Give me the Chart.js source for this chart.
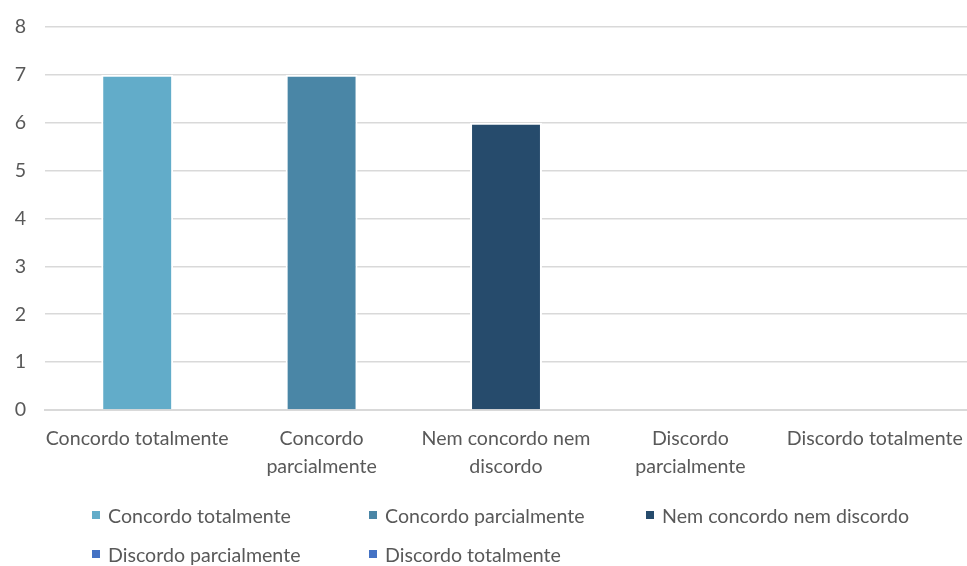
<!DOCTYPE html>
<html>
<head>
<meta charset="utf-8">
<script src="https://cdn.jsdelivr.net/npm/chart.js@4/dist/chart.umd.min.js"></script>
<style>
  html, body { margin: 0; padding: 0; background: #fff; overflow: hidden; }
  #wrap { position: relative; width: 967px; height: 566px; }
  #chartBox { position: absolute; left: 0; top: 0; width: 967px; height: 506px; }
  #legend {
    position: absolute; left: 92px; top: 501px; width: 850px;
    display: grid; grid-template-columns: 277px 277px 277px; row-gap: 11px;
    font-family: Lato, "Open Sans", sans-serif; font-size: 19.6px; color: #595959;
  }
  #legend .item { display: flex; align-items: center; height: 28px; white-space: nowrap; }
  #legend .box { width: 8px; height: 8px; margin-right: 8px; flex: none; }
</style>
</head>
<body>
<div id="wrap">
  <div id="chartBox"><canvas id="respostasChart"></canvas></div>
  <div id="legend"></div>
</div>
<script>
const categorias = ['Concordo totalmente', 'Concordo parcialmente', 'Nem concordo nem discordo', 'Discordo parcialmente', 'Discordo totalmente'];
const rotulosEixo = ['Concordo totalmente', ['Concordo', 'parcialmente'], ['Nem concordo nem', 'discordo'], ['Discordo', 'parcialmente'], 'Discordo totalmente'];
const respostas = [7, 7, 6, 0, 0];
const cores = ['#62acc9', '#4a86a6', '#264b6c', '#4472c4', '#4472c4'];
const escalaY = [0, 8];

const textColor = '#595959';
const gridColor = '#d9d9d9';

// one dataset per answer so each gets its own legend entry
const datasets = categorias.map((nome, i) => ({
  label: nome,
  data: respostas.map((v, j) => (j === i ? v : null)),
  backgroundColor: cores[i],
  borderColor: '#ffffff',
  borderWidth: ctx => (ctx.raw ? 2 : 0),
  borderSkipped: 'bottom'
}));

const ctx = document.getElementById('respostasChart').getContext('2d');
const chart = new Chart(ctx, {
  type: 'bar',
  data: { labels: rotulosEixo, datasets: datasets },
  options: {
    responsive: true,
    maintainAspectRatio: false,
    animation: false,
    layout: { padding: { top: 27, left: 14, right: 0, bottom: 10 } },
    datasets: {
      bar: { skipNull: true, barPercentage: 1, categoryPercentage: 0.39 }
    },
    plugins: {
      legend: { display: false },
      tooltip: { enabled: false }
    },
    scales: {
      x: {
        grid: { display: false, drawTicks: false },
        border: { color: gridColor, width: 2 },
        ticks: {
          color: textColor,
          padding: 15,
          maxRotation: 0,
          autoSkip: false,
          font: { family: 'Lato', size: 19.6, lineHeight: 1.43 }
        },
        // let the long end labels overhang instead of shrinking the plot
        afterFit: scale => {
          scale.paddingLeft = 0;
          scale.paddingRight = 0;
        }
      },
      y: {
        min: escalaY[0],
        max: escalaY[1],
        grid: { color: gridColor, lineWidth: 1.5, drawTicks: false },
        border: { display: false },
        ticks: {
          stepSize: 1,
          color: textColor,
          padding: 19,
          font: { family: 'Lato', size: 19.6 }
        },
        afterFit: scale => {
          scale.width = 31;
          scale.paddingTop = 0;
          scale.paddingBottom = 0;
        }
      }
    }
  }
});

// legend laid out in columns under the chart
const legend = document.getElementById('legend');
chart.data.datasets.forEach(ds => {
  const item = document.createElement('div');
  item.className = 'item';
  const box = document.createElement('span');
  box.className = 'box';
  box.style.background = ds.backgroundColor;
  const txt = document.createElement('span');
  txt.textContent = ds.label;
  item.appendChild(box);
  item.appendChild(txt);
  legend.appendChild(item);
});
</script>
</body>
</html>
